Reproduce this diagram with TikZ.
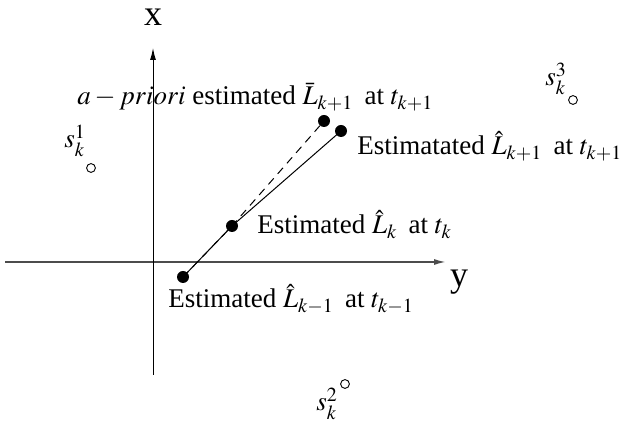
\documentclass[tikz,border=0pt]{standalone}
\usepackage{mathptmx}
\usepackage{fontspec}
\setmainfont{Liberation Serif}
\usetikzlibrary{arrows.meta}
\begin{document}
\begin{tikzpicture}[x=0.5pt,y=-0.5pt,
  lbl/.style={anchor=base west,inner sep=0pt,font=\fontsize{13.5}{16}\selectfont},
  axlbl/.style={inner sep=0pt,font=\fontsize{18}{21}\selectfont},
  dot/.style={circle,fill=black,inner sep=0pt,minimum size=6pt},
  sat/.style={circle,draw=black,line width=0.45pt,inner sep=0pt,minimum size=4.4pt},
  axis/.style={-{Latex[length=6pt,width=3pt]}}]
\useasboundingbox (0,0) rectangle (622,426);
% axes
\coordinate (vb) at (153,375);
\coordinate (vt) at (153,48);
\coordinate (hl) at (5,262);
\coordinate (hr) at (446,262);
\draw[axis,black!70,line width=0.8pt] (hl) -- (hr);
\draw[axis,line width=0.5pt] (vb) -- (vt);
\node[axlbl] (xl) at (153,17) {x};
\node[axlbl] (yl) at (459,282) {y};
% points
\node[dot] (p1) at (183,277) {};
\node[dot] (p2) at (232,226) {};
\node[dot] (p3) at (324,121) {};
\node[dot] (p4) at (341,131) {};
\draw[line width=0.5pt] (p1.center) -- (p2.center) -- (p4.center);
\draw[dashed,dash pattern=on 4pt off 3pt,line width=0.5pt] (p1.center) -- (p2.center) -- (p3.center);
% labels
\node[lbl] (t3) at (77,105) {$a-priori$ estimated $\bar{L}_{k+1}$\, at $t_{k+1}$};
\node[lbl] (t4) at (357,155) {Estimatated $\hat{L}_{k+1}$\, at $t_{k+1}$};
\node[lbl] (t2) at (257,234) {Estimated $\hat{L}_{k}$\, at $t_{k}$};
\node[lbl] (t1) at (168,308) {Estimated $\hat{L}_{k-1}$\, at $t_{k-1}$};
% satellites
\node[sat] (s1) at (91,168) {};
\node[sat] (s2) at (345,384) {};
\node[sat] (s3) at (573,100) {};
\node[lbl] (s1l) at (64,148) {$s_k^1$};
\node[lbl] (s2l) at (316,411) {$s_k^2$};
\node[lbl] (s3l) at (545,86) {$s_k^3$};
\end{tikzpicture}
\end{document}
